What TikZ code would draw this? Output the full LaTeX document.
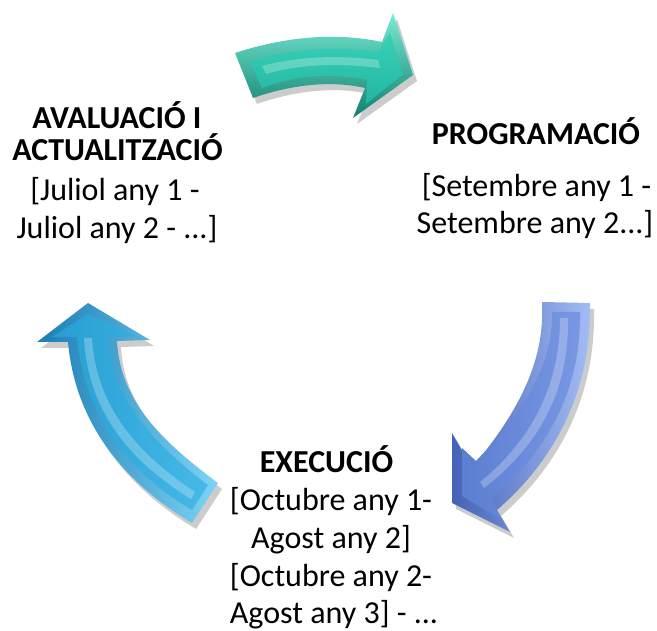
\documentclass[tikz,border=0pt]{standalone}
\usepackage{fontspec}
\setmainfont{Carlito}
\begin{document}
\begin{tikzpicture}[x=1pt,y=-1pt,
  titletext/.style={font=\fontsize{32}{32}\selectfont\bfseries, anchor=base, inner sep=0pt},
  datetext/.style={font=\fontsize{32}{32}\selectfont, anchor=base, inner sep=0pt},
  shadowfill/.style={fill=black, opacity=0.2},
  highlight/.style={fill=white, opacity=0.25}]
\definecolor{tealL}{RGB}{120,235,212}
\definecolor{tealF}{RGB}{58,208,184}
\definecolor{tealM}{RGB}{34,182,160}
\definecolor{tealD}{RGB}{18,128,110}
\definecolor{blueL}{RGB}{165,190,245}
\definecolor{blueF}{RGB}{120,152,228}
\definecolor{blueM}{RGB}{92,126,208}
\definecolor{blueD}{RGB}{68,98,182}
\definecolor{cyanL}{RGB}{125,212,245}
\definecolor{cyanF}{RGB}{70,185,232}
\definecolor{cyanM}{RGB}{38,158,210}
\definecolor{cyanD}{RGB}{28,125,180}
\useasboundingbox (0,0) rectangle (657,631);

% ---------- top arrow (teal) ----------
\def\arrT{(235,53) .. controls (290,35) and (340,33) .. (382,42) -- (393,13) -- (413,75) -- (353,118) -- (365,88) .. controls (330,80) and (290,85) .. (253,98) -- cycle}
\fill[shadowfill] [shift={(4,6)}] \arrT;
\shade[top color=tealL, bottom color=tealD] \arrT;
\shade[top color=tealF, bottom color=tealM] (250,62) .. controls (290,48) and (340,46) .. (378,52) -- (390,33) -- (403,74) -- (366,104) -- (367,80) .. controls (330,72) and (292,76) .. (262,88) -- cycle;
\fill[highlight] (262,66) .. controls (300,56) and (340,55) .. (378,60) -- (380,68) .. controls (340,63) and (300,64) .. (266,74) -- cycle;

% ---------- right arrow (blue) ----------
\def\arrR{(542,302) -- (590,303) .. controls (592,390) and (555,460) .. (497,510) -- (510,532) -- (452,503) -- (452,433) -- (472,468) .. controls (520,410) and (545,360) .. cycle}
\fill[shadowfill] [shift={(4,6)}] \arrR;
\shade[left color=blueD, right color=blueL] \arrR;
\shade[left color=blueM, right color=blueF] (552,312) -- (580,312) .. controls (581,390) and (548,450) .. (492,498) -- (500,519) -- (462,496) -- (462,448) -- (476,461) .. controls (525,410) and (553,365) .. cycle;
\fill[highlight] (560,318) -- (568,318) .. controls (569,390) and (540,445) .. (484,488) -- (480,482) .. controls (532,440) and (560,385) .. cycle;

% ---------- left arrow (cyan) ----------
\def\arrL{(88,303) -- (150,340) -- (117,341) .. controls (120,400) and (160,440) .. (218,483) -- (192,523) .. controls (120,480) and (75,420) .. (68,342) -- (37,342) -- cycle}
\fill[shadowfill] [shift={(4,6)}] \arrL;
\shade[left color=cyanD, right color=cyanL] \arrL;
\shade[left color=cyanM, right color=cyanF] (88,314) -- (135,336) -- (108,337) .. controls (112,400) and (155,445) .. (208,485) -- (192,510) .. controls (125,470) and (85,415) .. (77,337) -- (52,337) -- cycle;
\fill[highlight] (84,338) -- (92,338) .. controls (96,405) and (135,452) .. (195,492) -- (191,499) .. controls (128,460) and (88,410) .. cycle;

% ---------- texts ----------
\node[titletext] (evalT1) at (117,129) {AVALUACIÓ I};
\node[titletext, text height=22pt] (evalT2) at (117.5,161) {ACTUALITZACIÓ};
\node[datetext]  (evalD1) at (115,201) {[Juliol any 1 -};
\node[datetext]  (evalD2) at (117,239) {Juliol any 2 - ...]};
\node[titletext] (progT)  at (536,145) {PROGRAMACIÓ};
\node[datetext]  (progD1) at (536.5,197) {[Setembre any 1 -};
\node[datetext]  (progD2) at (535,234) {Setembre any 2...]};
\node[titletext] (execT)  at (326.5,473) {EXECUCIÓ};
\node[datetext]  (execD1) at (331,511) {[Octubre any 1-};
\node[datetext]  (execD2) at (331,548.5) {Agost any 2]};
\node[datetext]  (execD3) at (331,586) {[Octubre any 2-};
\node[datetext]  (execD4) at (334,623.5) {Agost any 3] - ...};
\end{tikzpicture}
\end{document}
